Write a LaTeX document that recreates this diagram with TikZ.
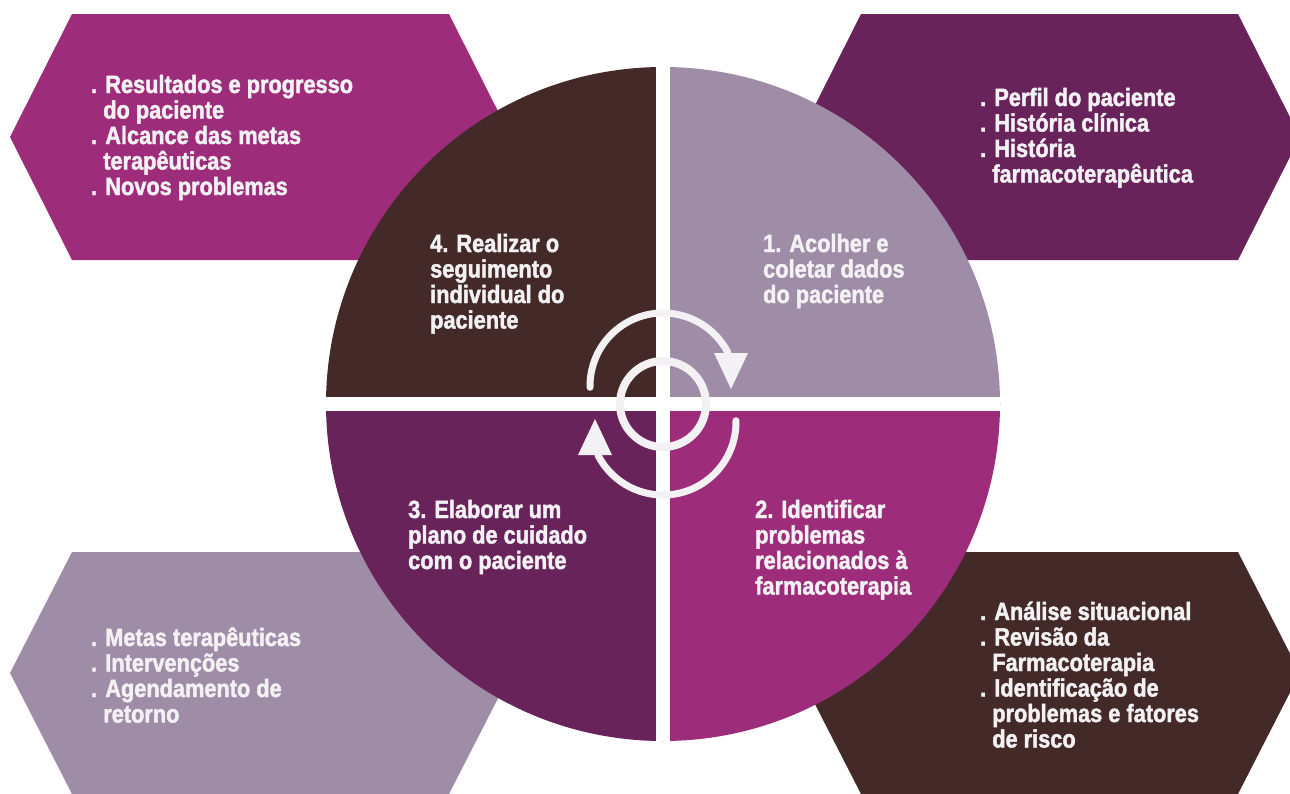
\documentclass[tikz,border=0pt]{standalone}
\usepackage{fontspec}
\newfontfamily\cond[FakeStretch=0.87,FakeBold=1.8]{Liberation Sans}
\definecolor{mag}{HTML}{9D2C7B}
\definecolor{dpur}{HTML}{68235B}
\definecolor{brn}{HTML}{432A28}
\definecolor{mauve}{HTML}{9F8CA7}
\definecolor{wt}{HTML}{F3F1F3}
\newcommand\blines[1]{\vtop{\lineskiplimit=-1000pt\baselineskip=25.5pt\halign{##\hfil\cr#1\crcr}}}
\newcommand\ind{\hphantom{.\ }}
\begin{document}
\begin{tikzpicture}[x=1pt,y=-1pt,
  txt/.style={text=wt, font=\cond\bfseries\fontsize{25}{25.5}\selectfont, inner sep=0pt, anchor=base west},
  gap/.style={draw=white, line width=14pt},
  ring/.style={draw=wt, line width=8pt},
  cyc/.style={draw=wt, line width=7pt, line cap=round},
  tip/.style={fill=wt}]
\useasboundingbox (0,0) rectangle (1290,793);
\clip (0,0) rectangle (1290,793);
% hexagons
\fill[mag]   (72,14) -- (449,14) -- (511,137) -- (449,260) -- (72,260) -- (10,137) -- cycle;
\fill[dpur]  (861,14) -- (1238,14) -- (1300,137) -- (1238,260) -- (861,260) -- (799,137) -- cycle;
\fill[mauve] (72,552) -- (449,552) -- (511,673) -- (449,794) -- (72,794) -- (10,673) -- cycle;
\fill[brn]   (861,552) -- (1238,552) -- (1300,673) -- (1238,794) -- (861,794) -- (799,673) -- cycle;
% circle quadrants
\coordinate (O) at (663,404);
\fill[mauve] (O) -- ++(0,-337) arc[start angle=-90, end angle=0, radius=337] -- cycle;
\fill[mag]   (O) -- ++(337,0) arc[start angle=0, end angle=90, radius=337] -- cycle;
\fill[dpur]  (O) -- ++(0,337) arc[start angle=90, end angle=180, radius=337] -- cycle;
\fill[brn]   (O) -- ++(-337,0) arc[start angle=180, end angle=270, radius=337] -- cycle;
% white cross
\coordinate (vt) at (663,67);
\coordinate (vb) at (663,741);
\coordinate (hl) at (326,404);
\coordinate (hr) at (1000,404);
\draw[gap] (vt) -- (vb);
\draw[gap] (hl) -- (hr);
% inner ring
\draw[ring] (O) circle[radius=43];
% cycle arrows
\coordinate (ca) at (663,386);
\coordinate (cb) at (663,422);
\draw[cyc] ([shift={(179:73)}]ca) arc[start angle=179, end angle=333, radius=73];
\fill[tip] (714,353) -- (748,353) -- (731,389) -- cycle;
\draw[cyc] ([shift={(359:73)}]cb) arc[start angle=359, end angle=513, radius=73];
\fill[tip] (612,455) -- (578,455) -- (595,419) -- cycle;
% circle texts
\node[txt] (q1) at (763,252) {\blines{1. Acolher e\cr coletar dados\cr do paciente}};
\node[txt] (q2) at (755,518) {\blines{2. Identificar\cr problemas\cr relacionados à\cr farmacoterapia}};
\node[txt] (q3) at (408,518) {\blines{3. Elaborar um\cr plano de cuidado\cr com o paciente}};
\node[txt] (q4) at (430,252) {\blines{4. Realizar o\cr seguimento\cr individual do\cr paciente}};
% hexagon texts
\node[txt] (h4) at (91,93) {\blines{. Resultados e progresso\cr\ind do paciente\cr . Alcance das metas\cr\ind terapêuticas\cr . Novos problemas}};
\node[txt] (h1) at (980,106) {\blines{. Perfil do paciente\cr . História clínica\cr . História\cr\ind farmacoterapêutica}};
\node[txt] (h3) at (91,646) {\blines{. Metas terapêuticas\cr . Intervenções\cr . Agendamento de\cr\ind retorno}};
\node[txt] (h2) at (980,620) {\blines{. Análise situacional\cr . Revisão da\cr\ind Farmacoterapia\cr . Identificação de\cr\ind problemas e fatores\cr\ind de risco}};
\end{tikzpicture}
\end{document}
